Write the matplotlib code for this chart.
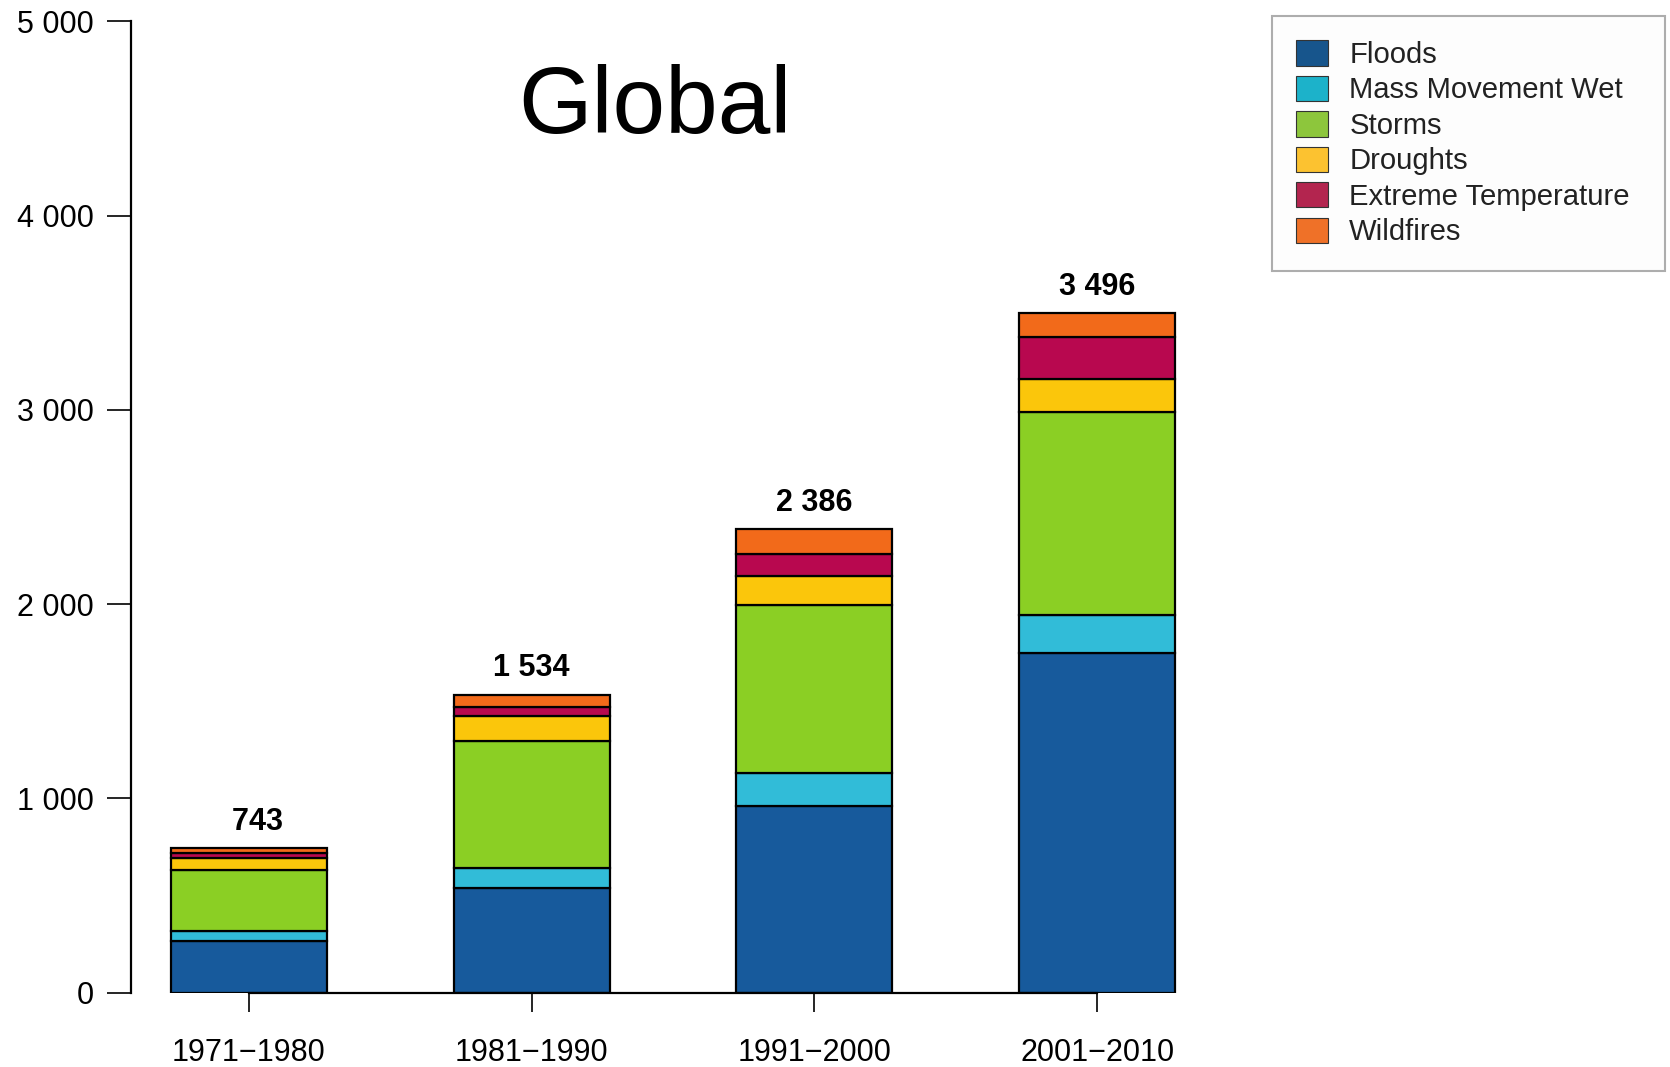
import matplotlib
matplotlib.use("Agg")
import matplotlib.pyplot as plt
from matplotlib.patches import Patch
import numpy as np

plt.rcParams['font.family'] = ['Liberation Sans', 'DejaVu Sans']

decades = ["1971\u22121980", "1981\u22121990", "1991\u22122000", "2001\u22122010"]
series_names = ["Floods", "Mass Movement Wet", "Storms", "Droughts",
                "Extreme Temperature", "Wildfires"]
floods = [268, 541, 963, 1749]
mass_movement_wet = [50, 101, 170, 197]
storms = [314, 654, 862, 1041]
droughts = [60, 127, 152, 170]
extreme_temperature = [25, 48, 110, 220]
wildfires = [26, 63, 129, 119]
totals = [743, 1534, 2386, 3496]
yticks = [0, 1000, 2000, 3000, 4000, 5000]
ytick_labels = ["0", "1 000", "2 000", "3 000", "4 000", "5 000"]

bar_colors = ["#175a9c", "#31bcd8", "#8bcf24", "#fbc60b", "#b8084f", "#f26a1a"]
legend_colors = ["#17558c", "#1cb2ca", "#8dc63c", "#fcc230", "#b3254f", "#ef7128"]

fig = plt.figure(figsize=(16.7, 10.67), dpi=100)
W, H = 1670, 1067
ax_left, ax_right = 131, 1180
ax_top, ax_bottom = 21.3, 992.6
ax = fig.add_axes([ax_left / W, 1 - ax_bottom / H,
                   (ax_right - ax_left) / W, (ax_bottom - ax_top) / H])

c0, sp = 249.0, 282.7
ax.set_xlim((ax_left - c0) / sp, (ax_right - c0) / sp)
ax.set_ylim(0, 5000)

x = np.arange(len(decades))
width = 156 / sp
data = [floods, mass_movement_wet, storms, droughts, extreme_temperature, wildfires]
bottom = np.zeros(len(decades))
for vals, col in zip(data, bar_colors):
    ax.bar(x, vals, width, bottom=bottom, color=col, edgecolor="black",
           linewidth=1.6, zorder=3)
    bottom += np.array(vals)

for xi, t in zip(x, totals):
    lab = f"{t:,}".replace(",", " ").rjust(5)
    ax.annotate(lab, (xi, t), xytext=(0, 18.8),
                textcoords="offset points", ha="center", va="center",
                fontsize=22, fontweight="bold")

for s in ["top", "right"]:
    ax.spines[s].set_visible(False)
ax.spines["left"].set_linewidth(1.6)
ax.spines["bottom"].set_linewidth(1.6)
ax.spines["bottom"].set_bounds(0, 3)
ax.spines["bottom"].set_zorder(4)

ax.set_yticks(yticks)
ax.set_yticklabels(ytick_labels)
ax.set_xticks(x)
ax.set_xticklabels(decades)
ax.tick_params(axis="y", length=17, width=1.2, pad=10, labelsize=22)
ax.tick_params(axis="x", length=13.5, width=1.2, pad=19.5, labelsize=22)

fig.text(655 / W, 1 - 133 / H, "Global", fontsize=68, ha="center",
         va="baseline")

handles = [Patch(facecolor=c, edgecolor="#333333", linewidth=0.8)
           for c in legend_colors]
leg = fig.legend(handles, series_names, loc="upper left",
                 bbox_to_anchor=(1272 / W, 1 - 266 / H, 393 / W, 250 / H),
                 mode="expand", fontsize=21.1, handlelength=1.09,
                 handleheight=0.95, handletextpad=0.72, labelspacing=0.23,
                 borderpad=0.83, borderaxespad=0, fancybox=False,
                 frameon=True)
leg.get_frame().set_edgecolor("#999999")
leg.get_frame().set_linewidth(1.5)
leg.get_frame().set_facecolor("#fdfdfd")
for t in leg.get_texts():
    t.set_color("#222222")

fig.savefig("out.png", dpi=100)
